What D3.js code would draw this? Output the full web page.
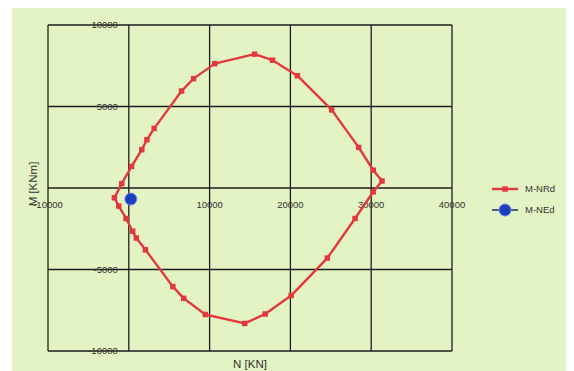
<!DOCTYPE html>
<html>
<head>
  <meta charset="utf8">
  <style type="text/css">
    body { margin: 0; background: #fff; font-family: "Liberation Sans", Arial, sans-serif; }
    text { fill: #333; font-size: 9.5px; }
  </style>
</head>
<body>
<script src="https://d3js.org/d3.v7.min.js"></script>
<script type="text/javascript">
var width = 574, height = 371;

// M-N interaction curve
var nRd = [-1780, -880, 340, 1610, 2240, 3140, 6530, 8020, 10640, 15570, 17790, 20860, 25110, 28450, 30260, 31340,
           30260, 28000, 24570, 20090, 16880, 14350, 9470, 6800, 5450, 2060, 930, 480, -340, -1240, -1780];
var mRd = [-600, 270, 1320, 2350, 2960, 3660, 5950, 6710, 7630, 8210, 7840, 6890, 4790, 2490, 1090, 430,
           -230, -1870, -4300, -6600, -7730, -8310, -7760, -6770, -6050, -3790, -3070, -2650, -1870, -1110, -600];
var nEd = [250];
var mEd = [-680];

var xTicks = [-10000, 0, 10000, 20000, 30000, 40000];
var yTicks = [-10000, -5000, 0, 5000, 10000];
var seriesNames = ['M-NRd', 'M-NEd'];

var svg = d3.select('body').append('svg')
    .attr('width', width)
    .attr('height', height);

// background
svg.append('rect')
  .attr('x', 12).attr('y', 8)
  .attr('width', 554).attr('height', height - 8)
  .style('fill', '#e3f3c3');

var x = d3.scaleLinear().domain([-10000, 40000]).range([48, 452]);
var y = d3.scaleLinear().domain([-10000, 10000]).range([351, 25]);

var grid = svg.append('g');
grid.selectAll('.vx').data(xTicks).enter().append('line')
  .attr('x1', function(d) { return x(d) }).attr('x2', function(d) { return x(d) })
  .attr('y1', y(10000)).attr('y2', y(-10000))
  .style('stroke', '#1e1e1e').style('stroke-width', 1.3);
grid.selectAll('.hy').data(yTicks).enter().append('line')
  .attr('x1', x(-10000)).attr('x2', x(40000))
  .attr('y1', function(d) { return y(d) }).attr('y2', function(d) { return y(d) })
  .style('stroke', '#1e1e1e').style('stroke-width', 1.3);

// tick labels sit on the zero lines
svg.append('g').selectAll('text').data(yTicks.filter(function(d) { return d !== 0 })).enter().append('text')
  .attr('x', x(0) - 11)
  .attr('y', function(d) { return y(d) })
  .attr('dy', '0.35em')
  .attr('text-anchor', 'end')
  .text(function(d) { return d });

svg.append('g').selectAll('text').data(xTicks.filter(function(d) { return d !== 0 })).enter().append('text')
  .attr('x', function(d) { return x(d) })
  .attr('y', y(0) + 20)
  .attr('text-anchor', 'middle')
  .text(function(d) { return d });

// axis titles
svg.append('text')
  .attr('transform', 'translate(37,' + (y(0) - 4) + ') rotate(-90)')
  .attr('text-anchor', 'middle')
  .style('font-size', '11.5px')
  .text('M [KNm]');
svg.append('text')
  .attr('x', 250).attr('y', 368)
  .attr('text-anchor', 'middle')
  .style('font-size', '11.5px')
  .text('N [KN]');

var red = '#e2393d', blue = '#1c3fc0';

var rdData = nRd.map(function(n, i) { return [n, mRd[i]] });
var edData = nEd.map(function(n, i) { return [n, mEd[i]] });

var line = d3.line()
  .x(function(d) { return x(d[0]) })
  .y(function(d) { return y(d[1]) });

svg.append('path')
  .datum(rdData)
  .attr('d', line)
  .style('fill', 'none')
  .style('stroke', red)
  .style('stroke-width', 2.4)
  .style('stroke-linejoin', 'round');

var sq = d3.symbol().type(d3.symbolSquare).size(30);
svg.append('g').selectAll('path').data(rdData.slice(0, -1)).enter().append('path')
  .attr('d', sq)
  .attr('transform', function(d) { return 'translate(' + x(d[0]) + ',' + y(d[1]) + ')' })
  .style('fill', red);

svg.append('g').selectAll('circle').data(edData).enter().append('circle')
  .attr('cx', function(d) { return x(d[0]) })
  .attr('cy', function(d) { return y(d[1]) })
  .attr('r', 6)
  .style('fill', blue)
  .style('stroke', '#6d86e0')
  .style('stroke-width', 1);

// legend
var leg = svg.append('g').attr('transform', 'translate(492,189)');
seriesNames.forEach(function(name, i) {
  var g = leg.append('g').attr('transform', 'translate(0,' + (i * 21) + ')');
  var c = i === 0 ? red : blue;
  g.append('line').attr('x1', 0).attr('x2', 26).attr('y1', 0).attr('y2', 0)
    .style('stroke', i === 0 ? c : '#1a2a70').style('stroke-width', i === 0 ? 2.4 : 1.5);
  if (i === 0) {
    g.append('path').attr('d', sq).attr('transform', 'translate(13,0)').style('fill', c);
  } else {
    g.append('circle').attr('cx', 13).attr('r', 6).style('fill', c).style('stroke', '#6d86e0');
  }
  g.append('text').attr('x', 33).attr('dy', '0.35em').text(name);
});
</script>
</body>
</html>
